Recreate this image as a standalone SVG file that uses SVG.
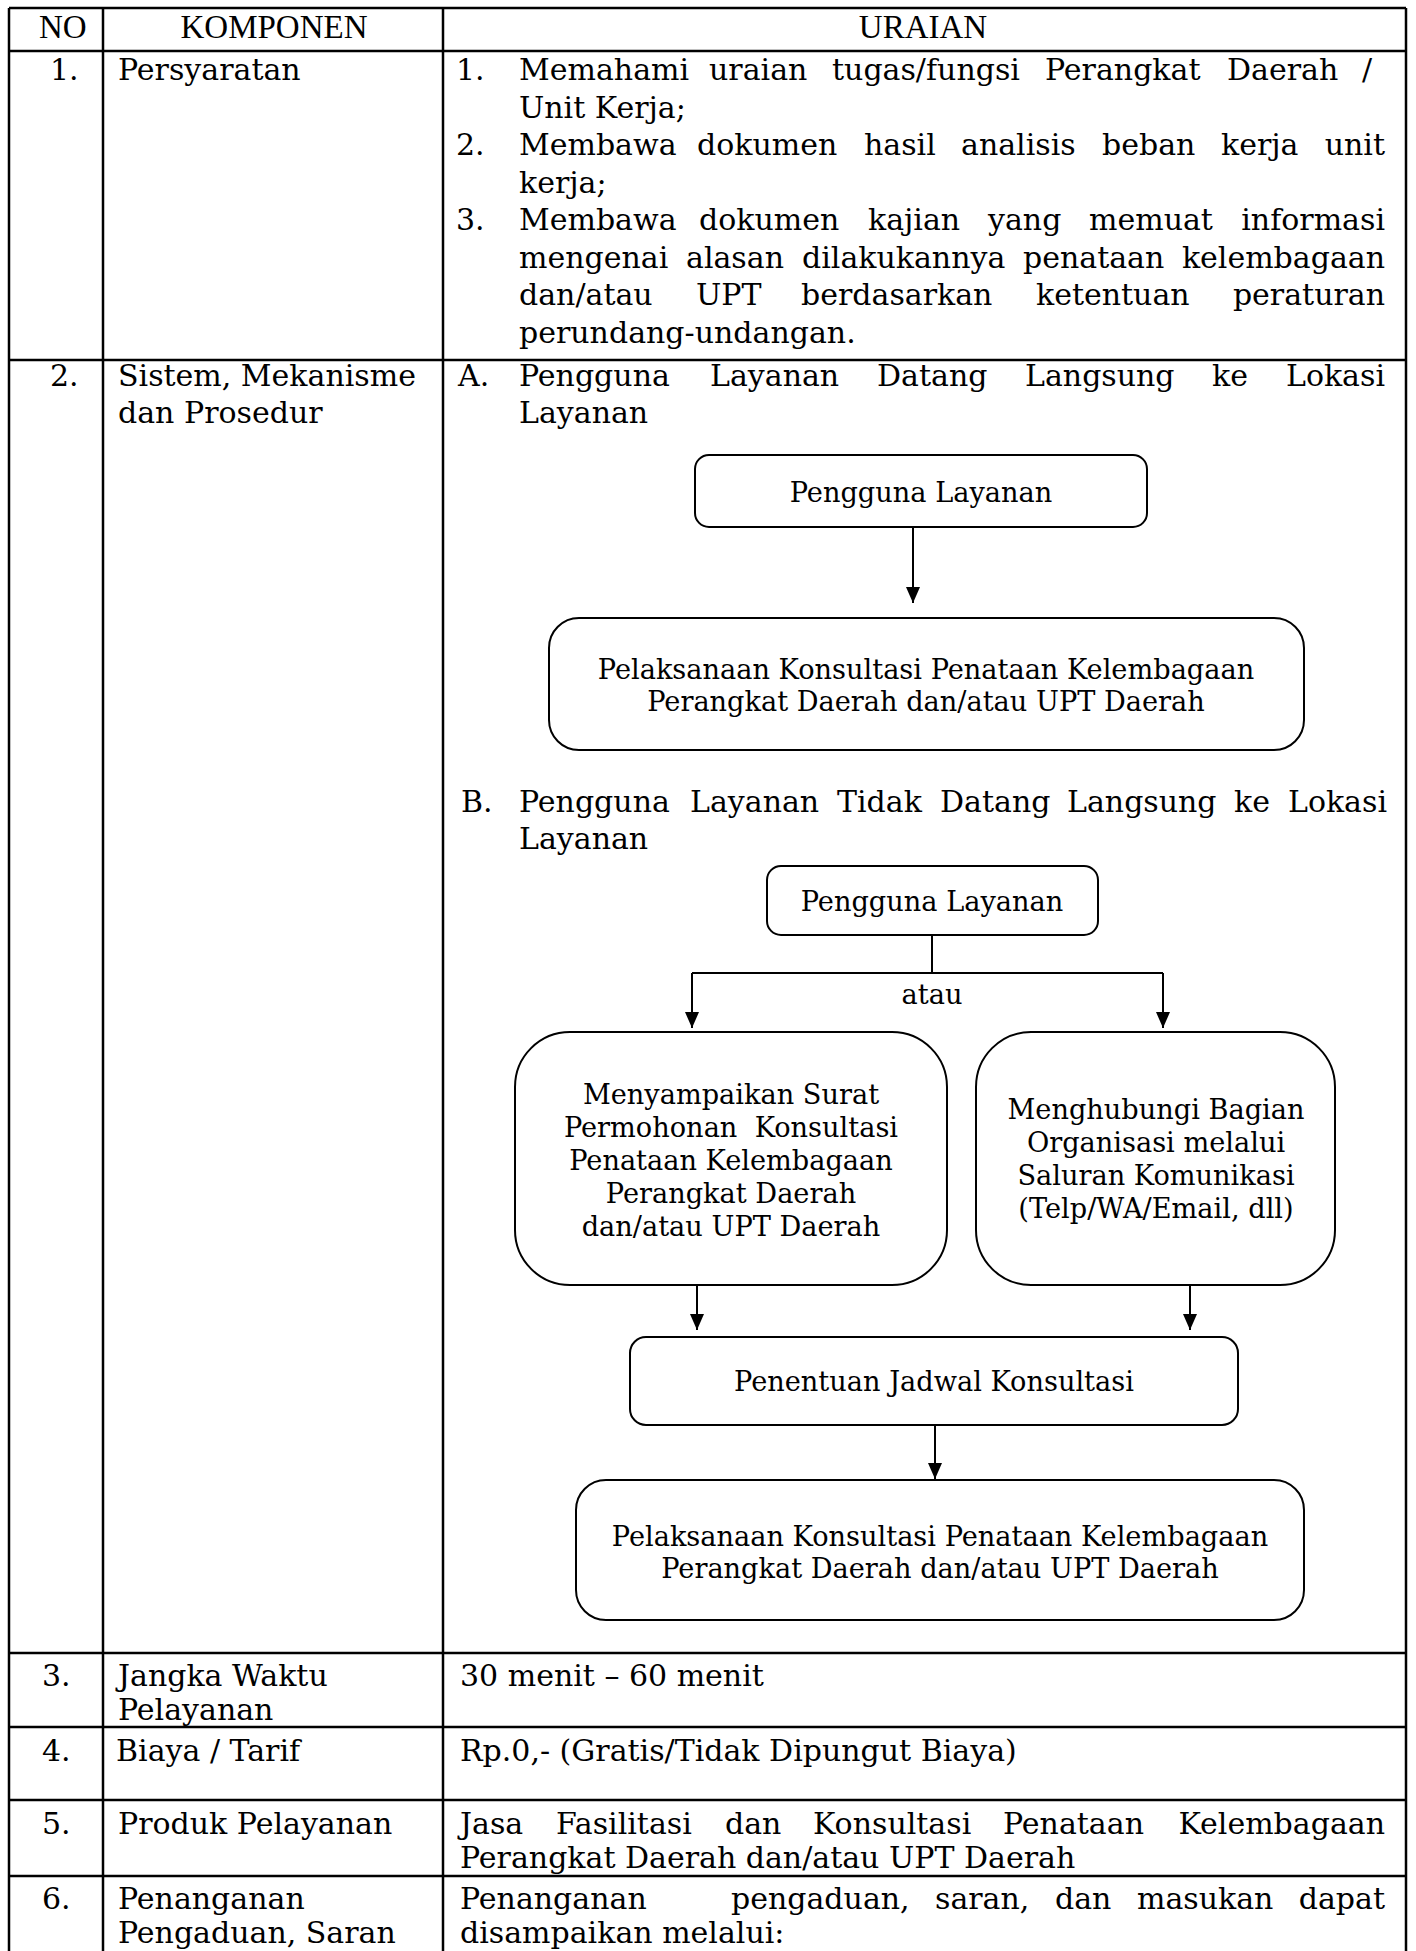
<svg xmlns="http://www.w3.org/2000/svg" width="1416" height="1951" viewBox="0 0 1416 1951">
  <style>
    .grid { stroke: #000; stroke-width: 2.5; fill: none; }
    .box { fill: #fff; stroke: #000; stroke-width: 2; }
    .conn { stroke: #000; stroke-width: 2; fill: none; }
    .h { font-family: "Liberation Serif", "Times New Roman", serif; font-size: 33px; fill: #000; }
    .t { font-family: "DejaVu Serif", "Liberation Serif", serif; font-size: 30px; fill: #000; }
    .f { font-family: "DejaVu Serif", "Liberation Serif", serif; font-size: 27.2px; fill: #000; text-anchor: middle; }
    .e { text-anchor: end; }
  </style>
  <defs>
    <marker id="arrow" markerUnits="userSpaceOnUse" markerWidth="16" markerHeight="14" viewBox="0 0 16 14" refX="16" refY="7" orient="auto">
      <path d="M0,0 L16,7 L0,14 z" fill="#000"/>
    </marker>
  </defs>

  <rect width="1416" height="1951" fill="#fff"/>

  <!-- table grid -->
  <g id="table-grid" class="grid">
    <line x1="9" y1="8" x2="1406" y2="8"/>
    <line x1="9" y1="51" x2="1406" y2="51"/>
    <line x1="9" y1="360" x2="1406" y2="360"/>
    <line x1="9" y1="1653" x2="1406" y2="1653"/>
    <line x1="9" y1="1727" x2="1406" y2="1727"/>
    <line x1="9" y1="1800" x2="1406" y2="1800"/>
    <line x1="9" y1="1876" x2="1406" y2="1876"/>
    <line x1="9" y1="8" x2="9" y2="1960"/>
    <line x1="103" y1="8" x2="103" y2="1960"/>
    <line x1="443" y1="8" x2="443" y2="1960"/>
    <line x1="1406" y1="8" x2="1406" y2="1960"/>
  </g>

  <!-- header row -->
  <g id="header">
    <text class="h" x="39" y="38">NO</text>
    <text class="h" x="274" y="38" text-anchor="middle">KOMPONEN</text>
    <text class="h" x="923" y="38" text-anchor="middle">URAIAN</text>
  </g>

  <!-- row 1: Persyaratan (justified lines set word by word) -->
  <g id="row-1" class="t">
    <text x="50" y="80">1.</text>
    <text x="118" y="80">Persyaratan</text>

    <text x="456" y="80">1.</text>
    <text x="519" y="80">Memahami</text>
    <text x="709" y="80">uraian</text>
    <text x="832" y="80">tugas/fungsi</text>
    <text x="1045" y="80">Perangkat</text>
    <text x="1227" y="80">Daerah</text>
    <text x="1372" y="80" class="e">/</text>
    <text x="519" y="117.5">Unit Kerja;</text>

    <text x="456" y="155">2.</text>
    <text x="519" y="155">Membawa</text>
    <text x="697" y="155">dokumen</text>
    <text x="864" y="155">hasil</text>
    <text x="961" y="155">analisis</text>
    <text x="1102" y="155">beban</text>
    <text x="1221" y="155">kerja</text>
    <text x="1385" y="155" class="e">unit</text>
    <text x="519" y="192.5">kerja;</text>

    <text x="456" y="230">3.</text>
    <text x="519" y="230">Membawa</text>
    <text x="699" y="230">dokumen</text>
    <text x="868" y="230">kajian</text>
    <text x="988" y="230">yang</text>
    <text x="1089" y="230">memuat</text>
    <text x="1385" y="230" class="e">informasi</text>

    <text x="519" y="267.5">mengenai</text>
    <text x="686" y="267.5">alasan</text>
    <text x="802" y="267.5">dilakukannya</text>
    <text x="1023" y="267.5">penataan</text>
    <text x="1385" y="267.5" class="e">kelembagaan</text>

    <text x="519" y="305">dan/atau</text>
    <text x="696" y="305">UPT</text>
    <text x="801" y="305">berdasarkan</text>
    <text x="1036" y="305">ketentuan</text>
    <text x="1385" y="305" class="e">peraturan</text>

    <text x="519" y="342.5">perundang-undangan.</text>
  </g>

  <!-- row 2: Sistem, Mekanisme dan Prosedur -->
  <g id="row-2" class="t">
    <text x="50" y="386">2.</text>
    <text x="118" y="386">Sistem, Mekanisme</text>
    <text x="118" y="423">dan Prosedur</text>

    <text x="458" y="386">A.</text>
    <text x="519" y="386">Pengguna</text>
    <text x="710" y="386">Layanan</text>
    <text x="877" y="386">Datang</text>
    <text x="1025" y="386">Langsung</text>
    <text x="1212" y="386">ke</text>
    <text x="1385" y="386" class="e">Lokasi</text>
    <text x="519" y="423">Layanan</text>

    <text x="461" y="812">B.</text>
    <text x="519" y="812">Pengguna</text>
    <text x="690" y="812">Layanan</text>
    <text x="837" y="812">Tidak</text>
    <text x="940" y="812">Datang</text>
    <text x="1067" y="812">Langsung</text>
    <text x="1234" y="812">ke</text>
    <text x="1387" y="812" class="e">Lokasi</text>
    <text x="519" y="849">Layanan</text>
  </g>

  <!-- flow A: direct visit -->
  <g id="a-pengguna">
    <rect class="box" x="695" y="455" width="452" height="72" rx="14"/>
    <text class="f" x="921" y="502">Pengguna Layanan</text>
  </g>
  <g id="a-pelaksanaan">
    <rect class="box" x="549" y="618" width="755" height="132" rx="30"/>
    <text class="f" x="926" y="679">Pelaksanaan Konsultasi Penataan Kelembagaan</text>
    <text class="f" x="926" y="711">Perangkat Daerah dan/atau UPT Daerah</text>
  </g>

  <!-- flow B: remote request -->
  <g id="b-pengguna">
    <rect class="box" x="767" y="866" width="331" height="69" rx="14"/>
    <text class="f" x="932" y="911">Pengguna Layanan</text>
  </g>
  <g id="b-surat">
    <rect class="box" x="515" y="1032" width="432" height="253" rx="55"/>
    <text class="f" x="731" y="1104">Menyampaikan Surat</text>
    <text class="f" x="731" y="1137" xml:space="preserve">Permohonan  Konsultasi</text>
    <text class="f" x="731" y="1170">Penataan Kelembagaan</text>
    <text class="f" x="731" y="1203">Perangkat Daerah</text>
    <text class="f" x="731" y="1236">dan/atau UPT Daerah</text>
  </g>
  <g id="b-hubungi">
    <rect class="box" x="976" y="1032" width="359" height="253" rx="55"/>
    <text class="f" x="1156" y="1119">Menghubungi Bagian</text>
    <text class="f" x="1156" y="1152">Organisasi melalui</text>
    <text class="f" x="1156" y="1185">Saluran Komunikasi</text>
    <text class="f" x="1156" y="1218">(Telp/WA/Email, dll)</text>
  </g>
  <g id="b-jadwal">
    <rect class="box" x="630" y="1337" width="608" height="88" rx="16"/>
    <text class="f" x="934" y="1391">Penentuan Jadwal Konsultasi</text>
  </g>
  <g id="b-pelaksanaan">
    <rect class="box" x="576" y="1480" width="728" height="140" rx="30"/>
    <text class="f" x="940" y="1546">Pelaksanaan Konsultasi Penataan Kelembagaan</text>
    <text class="f" x="940" y="1578">Perangkat Daerah dan/atau UPT Daerah</text>
  </g>

  <!-- connectors -->
  <g id="connectors" class="conn">
    <line x1="913" y1="527" x2="913" y2="603" marker-end="url(#arrow)"/>
    <polyline points="932,935 932,973"/>
    <polyline points="692,973 1163,973"/>
    <line x1="692" y1="973" x2="692" y2="1028" marker-end="url(#arrow)"/>
    <line x1="1163" y1="973" x2="1163" y2="1028" marker-end="url(#arrow)"/>
    <line x1="697" y1="1285" x2="697" y2="1330" marker-end="url(#arrow)"/>
    <line x1="1190" y1="1285" x2="1190" y2="1330" marker-end="url(#arrow)"/>
    <line x1="935" y1="1425" x2="935" y2="1479" marker-end="url(#arrow)"/>
  </g>
  <text class="f" x="932" y="1004">atau</text>

  <!-- rows 3 to 6 -->
  <g id="row-3" class="t">
    <text x="42" y="1686">3.</text>
    <text x="118" y="1686">Jangka Waktu</text>
    <text x="118" y="1720">Pelayanan</text>
    <text x="460" y="1686">30 menit – 60 menit</text>
  </g>
  <g id="row-4" class="t">
    <text x="42" y="1761">4.</text>
    <text x="116" y="1761">Biaya / Tarif</text>
    <text x="460" y="1761">Rp.0,- (Gratis/Tidak Dipungut Biaya)</text>
  </g>
  <g id="row-5" class="t">
    <text x="42" y="1834">5.</text>
    <text x="118" y="1834">Produk Pelayanan</text>
    <text x="460" y="1834">Jasa</text>
    <text x="556" y="1834">Fasilitasi</text>
    <text x="725" y="1834">dan</text>
    <text x="813" y="1834">Konsultasi</text>
    <text x="1003" y="1834">Penataan</text>
    <text x="1385" y="1834" class="e">Kelembagaan</text>
    <text x="460" y="1868">Perangkat Daerah dan/atau UPT Daerah</text>
  </g>
  <g id="row-6" class="t">
    <text x="42" y="1909">6.</text>
    <text x="118" y="1909">Penanganan</text>
    <text x="118" y="1943">Pengaduan, Saran</text>
    <text x="460" y="1909">Penanganan</text>
    <text x="731" y="1909">pengaduan,</text>
    <text x="935" y="1909">saran,</text>
    <text x="1055" y="1909">dan</text>
    <text x="1137" y="1909">masukan</text>
    <text x="1385" y="1909" class="e">dapat</text>
    <text x="460" y="1943">disampaikan melalui:</text>
  </g>
</svg>
